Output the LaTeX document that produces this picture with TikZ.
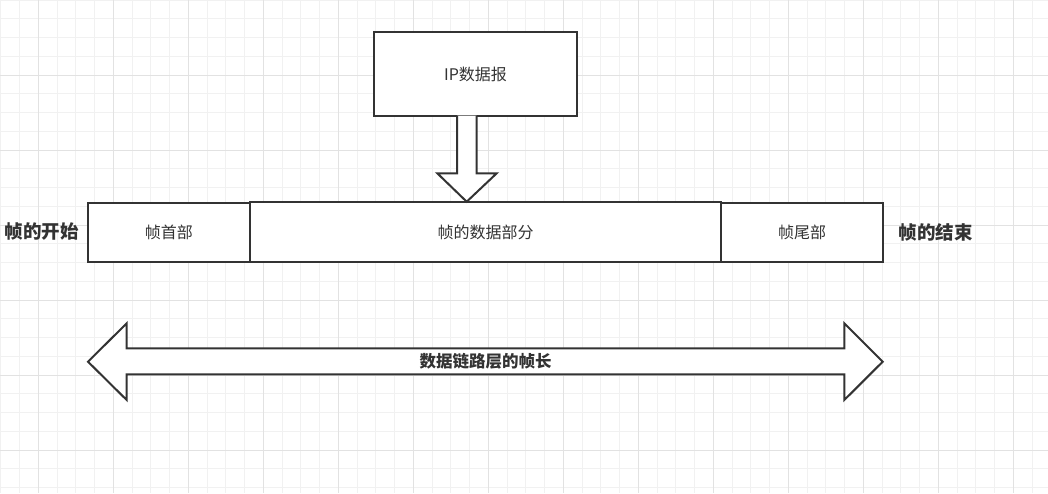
\documentclass[tikz,border=0pt]{standalone}
\usepackage{fontspec}
\newfontfamily\cjk{Noto Sans CJK SC}
\definecolor{lc}{HTML}{333333}
\definecolor{tc}{HTML}{333333}
\definecolor{gminor}{HTML}{F1F1F1}
\definecolor{gmajor}{HTML}{E2E2E2}
\begin{document}
\begin{tikzpicture}[x=1pt,y=-1pt,
  box/.style={draw=lc, line width=2pt, fill=white, inner sep=0pt, font=\cjk\fontsize{16}{19}\selectfont, text=tc},
  blockarrow/.style={draw=lc, line width=2pt, fill=white, line join=miter},
  biglabel/.style={font=\cjk\bfseries\fontsize{18.5}{22}\selectfont, text=tc, inner sep=0pt},
  arrowlabel/.style={font=\cjk\bfseries\fontsize{16.5}{20}\selectfont, text=tc, inner sep=0pt},
  minorline/.style={draw=gminor, line width=1pt},
  majorline/.style={draw=gmajor, line width=1pt}]
\useasboundingbox (0,0) rectangle (1048,493);
\fill[white] (0,0) rectangle (1048,493);
% grid
\foreach \i in {0,...,56} \draw[minorline] (0.8+18.75*\i,0) -- (0.8+18.75*\i,493);
\foreach \i in {0,...,26} \draw[minorline] (0,18.75*\i) -- (1048,18.75*\i);
\foreach \i in {0,...,13} \draw[majorline] (38.3+75*\i,0) -- (38.3+75*\i,493);
\foreach \i in {1,...,6} \draw[majorline] (0,75*\i) -- (1048,75*\i);
% boxes
\node[box, minimum width=203pt, minimum height=83.4pt] (ip) at (475.5,74) {IP数据报};
\node[box, minimum width=161.7pt, minimum height=58.4pt] (head) at (168.85,232.5) {帧首部};
\node[box, minimum width=161.4pt, minimum height=58.4pt] (tail) at (802,232.5) {帧尾部};
\node[box, minimum width=471.6pt, minimum height=60pt] (data) at (485.5,232.3) {帧的数据部分};
% down block arrow
\coordinate (dtip) at (466.7,201.7);
\draw[blockarrow] (457,115.7) -- (457,173.3) -- (437.3,173.3) -- (dtip) -- (496.7,173.3) -- (476.7,173.3) -- (476.7,115.7);
% side labels
\node[biglabel] (start) at (42,232) {帧的开始};
\node[biglabel] (end) at (935.5,232.5) {帧的结束};
% double block arrow
\draw[blockarrow] (88,361.7) -- (126.7,323.3) -- (126.7,348.3) -- (844.3,348.3) -- (844.3,323.3) -- (882.7,361.7) -- (844.3,400) -- (844.3,374.3) -- (126.7,374.3) -- (126.7,400) -- cycle;
\node[arrowlabel] (len) at (485.5,361) {数据链路层的帧长};
\end{tikzpicture}
\end{document}
